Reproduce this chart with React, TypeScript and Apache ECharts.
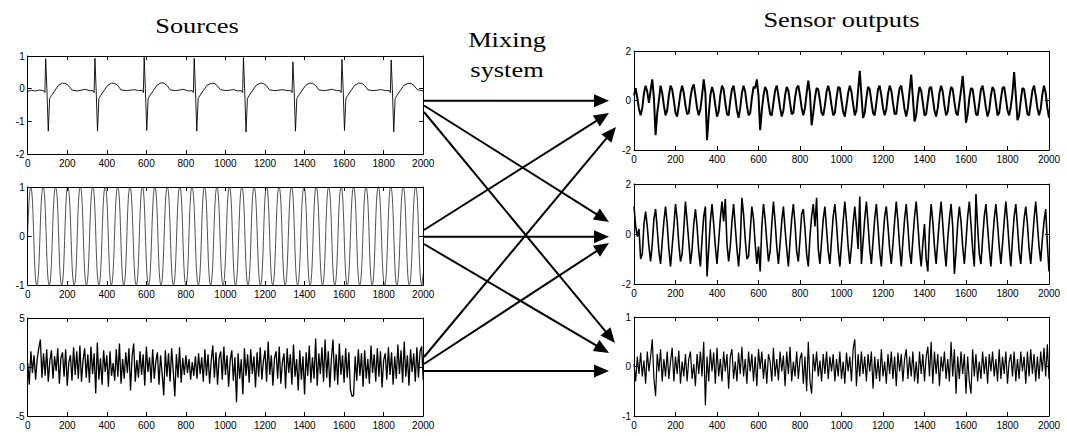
import React, { useEffect, useRef } from "react";
import * as echarts from "echarts";

// ---------------- DATA ----------------
const X_MIN = 0;
const X_MAX = 2000;
const X_TICK = 200;
const SAMPLE_STEP = 8; // sampling step of the noisy traces (x units)

// Source 1: ECG keypoints [x, value]
const ecgPoints: [number, number][] = [
  [0, -0.08], [20, -0.05], [40, -0.07], [60, -0.04], [75, -0.06],
  [81, -0.06], [87, -0.12], [91, 0.92], [97, 0], [104, -1.3], [111, -0.3], [121, -0.2], [138, -0.05], [155, 0.1], [176, 0.17], [191, 0.16], [206, 0.1], [223, -0.04], [251, -0.07], [291, -0.02], [311, -0.06],
  [330, -0.06], [336, -0.12], [340, 0.93], [346, 0], [353, -1.3], [360, -0.3], [370, -0.2], [387, -0.05], [404, 0.1], [425, 0.17], [440, 0.16], [455, 0.1], [472, -0.04], [500, -0.06], [540, -0.03], [560, -0.06],
  [579, -0.05], [585, -0.12], [589, 0.96], [595, 0], [602, -1.28], [609, -0.3], [619, -0.2], [636, -0.05], [653, 0.1], [674, 0.18], [689, 0.17], [704, 0.1], [721, -0.04], [749, -0.06], [789, -0.02], [809, -0.07],
  [832, -0.06], [838, -0.12], [842, 0.93], [848, 0], [855, -1.3], [862, -0.3], [872, -0.2], [889, -0.05], [906, 0.1], [927, 0.16], [942, 0.17], [957, 0.1], [974, -0.03], [1002, -0.06], [1042, -0.03], [1062, -0.07],
  [1081, -0.06], [1087, -0.12], [1091, 0.95], [1097, 0], [1104, -1.33], [1111, -0.3], [1121, -0.2], [1138, -0.05], [1155, 0.1], [1176, 0.17], [1191, 0.16], [1206, 0.1], [1223, -0.04], [1251, -0.06], [1291, -0.03], [1311, -0.06],
  [1331, -0.06], [1337, -0.12], [1341, 0.82], [1347, 0], [1354, -1.3], [1361, -0.3], [1371, -0.2], [1388, -0.05], [1405, 0.1], [1426, 0.17], [1441, 0.16], [1456, 0.1], [1473, -0.04], [1501, -0.06], [1541, -0.02], [1561, -0.06],
  [1579, -0.06], [1585, -0.12], [1589, 0.9], [1595, 0], [1602, -1.28], [1609, -0.3], [1619, -0.2], [1636, -0.05], [1653, 0.1], [1674, 0.17], [1689, 0.16], [1704, 0.1], [1721, -0.04], [1749, -0.06], [1789, -0.03], [1809, -0.06],
  [1828, -0.06], [1834, -0.12], [1838, 0.88], [1844, 0], [1851, -1.32], [1858, -0.3], [1868, -0.2], [1885, -0.05], [1902, 0.1], [1923, 0.16], [1938, 0.16], [1953, 0.1], [1970, -0.03], [2000, -0.07],
];

// Source 2: sinusoid, read as its successive peaks and troughs [x, value]
const sinePoints: [number, number][] = [
  [0, 0.07],
  [15, 1], [46, -1], [78, 1], [109, -1], [141, 1], [172, -1], [203, 1], [235, -1],
  [266, 1], [297, -1], [329, 1], [360, -1], [392, 1], [423, -1], [455, 1], [486, -1],
  [517, 1], [549, -1], [580, 1], [611, -1], [643, 1], [674, -1], [706, 1], [737, -1],
  [769, 1], [800, -1], [831, 1], [863, -1], [894, 1], [925, -1], [957, 1], [988, -1],
  [1020, 1], [1051, -1], [1083, 1], [1114, -1], [1145, 1], [1177, -1], [1208, 1], [1239, -1],
  [1271, 1], [1302, -1], [1334, 1], [1365, -1], [1397, 1], [1428, -1], [1459, 1], [1491, -1],
  [1522, 1], [1553, -1], [1585, 1], [1616, -1], [1648, 1], [1679, -1], [1711, 1], [1742, -1],
  [1773, 1], [1805, -1], [1836, 1], [1867, -1], [1899, 1], [1930, -1], [1962, 1], [1993, -1],
  [2000, -0.76],
];

// Source 3: noise, one value every SAMPLE_STEP
const sourceNoise: number[] = [
  0.4, -1.8, 1.6, -0.6, 1.2, -1.3, 0.8, 1.9, 2.8, -1.1,
  1.4, -0.9, 1.8, -1.5, 0.6, 1.7, -1.2, 1.1, -0.4, 1.9,
  -1.7, 0.9, 1.5, -1.0, 1.8, -1.9, 0.5, 1.2, -1.4, 2.0,
  -0.8, 1.6, -1.2, 2.2, -1.5, 0.7, 1.9, -1.1, 1.3, -1.6,
  2.1, -0.7, 1.4, -2.7, 2.5, -1.3, 0.9, -1.8, 1.7, -0.5,
  1.2, -2.0, 1.6, -0.9, 0.4, -1.4, 1.8, -1.0, 2.4, -1.7,
  0.8, -1.2, 1.5, -0.6, 1.9, -2.4, 1.1, 2.4, -1.5, 0.7,
  -1.1, 1.6, -0.8, 1.3, -1.9, 2.1, -0.5, 1.0, -1.6, 1.8,
  -1.2, 0.6, 1.5, -1.8, 1.2, -0.7, -2.9, 1.7, -1.0, 1.4,
  -1.5, 1.9, -0.4, -3.0, 1.3, -1.1, 2.0, -1.6, 0.9, -0.8,
  1.2, -0.6, 0.8, -1.3, 0.5, -0.9, 1.1, -1.2, 1.4, -0.7,
  1.0, -1.5, 1.8, -0.9, 1.3, -1.7, 0.6, 2.2, -1.1, 1.5,
  -1.8, 0.9, 1.6, -1.3, 2.1, -0.8, 1.2, -2.0, 0.7, 1.7,
  -1.4, 1.0, -3.6, 1.4, -1.2, 0.8, -2.8, 1.9, -0.9, 1.3,
  -1.6, 1.8, -0.7, 1.1, -2.1, 1.5, -1.0, 2.0, -1.3, 0.6,
  1.7, -1.5, 2.6, -0.8, 1.2, -1.9, 0.9, 1.6, -1.2, 2.1,
  -1.7, 0.5, 1.4, -2.2, 1.9, -0.6, 1.3, -1.8, 2.3, -1.0,
  0.8, -2.4, 1.7, -1.3, 1.1, -2.8, 1.5, -0.9, 2.2, -1.6,
  1.0, -1.2, 2.9, -1.9, 1.4, -0.7, 2.0, -1.5, 2.8, -1.1,
  1.6, -2.1, 0.9, 2.8, -1.4, 1.3, -1.8, 2.4, -0.8, 1.2,
  -1.6, 1.9, -1.1, 1.5, -2.3, -3.0, -2.9, 1.1, -1.4, 1.8,
  -0.9, 1.4, -2.0, 1.7, -1.2, 0.8, -1.7, 2.2, -0.6, 1.3,
  -1.5, 1.9, -1.0, 1.6, -2.1, 0.7, 1.4, -1.3, 2.0, -0.8,
  1.5, -1.8, 1.1, -1.2, 2.3, -0.7, 1.7, -1.6, 2.6, -1.0,
  1.2, -1.9, 1.8, -0.5, 1.4, -1.5, 2.0, -1.1, 1.6, 2.1,
  -1.3,
];

// Sensor output 1
const sensor1: number[] = [
  0.2, 0.5, 0.1, -0.35, -0.6, -0.3, 0.3, 0.6, 0.35, -0.1,
  0.4, 0.85, 0.1, -1.4, -0.5, 0.0, 0.6, 0.3, -0.2, -0.6,
  -0.4, 0.2, 0.6, 0.45, 0.0, -0.5, -0.65, -0.2, 0.3, 0.6,
  0.3, -0.2, -0.55, -0.5, 0.1, 0.5, 0.65, 0.2, -0.3, -0.6,
  -0.35, 0.2, 0.85, 0.3, -1.6, -0.6, 0.2, 0.55, 0.3, -0.2,
  -0.65, -0.45, 0.2, 0.6, 0.45, -0.1, -0.55, -0.6, 0.0, 0.45,
  0.6, 0.15, -0.4, -0.7, -0.3, 0.3, 0.6, 0.35, -0.2, -0.6,
  -0.5, 0.1, 0.55, 0.5, 0.85, 0.2, -1.2, -0.4, 0.2, 0.55,
  0.4, -0.1, -0.55, -0.6, -0.1, 0.4, 0.6, 0.2, -0.3, -0.65,
  -0.4, 0.2, 0.55, 0.4, -0.1, -0.55, -0.5, 0.1, 0.5, 0.6,
  0.2, -0.3, -0.6, -0.3, 0.3, 0.8, 0.3, -1.0, -0.5, 0.1,
  0.5, 0.45, 0.0, -0.5, -0.6, -0.2, 0.35, 0.6, 0.3, -0.2,
  -0.6, -0.5, 0.1, 0.55, 0.5, 0.0, -0.45, -0.65, -0.2, 0.3,
  0.6, 0.35, -0.15, -0.6, -0.4, 0.4, 1.2, 0.2, -0.7, -0.5,
  0.1, 0.55, 0.45, -0.05, -0.5, -0.6, -0.1, 0.45, 0.6, 0.2,
  -0.3, -0.6, -0.35, 0.25, 0.6, 0.4, -0.1, -0.55, -0.55, 0.05,
  0.5, 0.6, 0.15, -0.35, -0.65, -0.3, 0.4, 1.05, 0.1, -0.85,
  -0.6, 0.1, 0.55, 0.4, -0.1, -0.6, -0.55, 0.0, 0.5, 0.55,
  0.1, -0.4, -0.65, -0.3, 0.3, 0.6, 0.35, -0.2, -0.6, -0.45,
  0.15, 0.55, 0.45, -0.05, -0.5, -0.6, -0.1, 0.4, 1.0, 0.2,
  -0.9, -0.55, 0.1, 0.5, 0.45, -0.05, -0.55, -0.6, -0.1, 0.45,
  0.6, 0.2, -0.3, -0.65, -0.4, 0.2, 0.55, 0.4, -0.1, -0.6,
  -0.5, 0.05, 0.5, 0.55, 0.1, -0.4, -0.6, -0.25, 0.3, 1.15,
  0.2, -0.8, -0.6, 0.0, 0.5, 0.45, -0.05, -0.55, -0.6, -0.1,
  0.4, 0.6, 0.2, -0.3, -0.6, -0.35, 0.25, 0.6, 0.3, -0.3,
  -0.7,
];

// Sensor output 2
const sensor2: number[] = [
  1.1, 0.3, -0.1, 0.2, -1.0, -0.8, 0.4, 0.9, 0.3, -0.5,
  -1.1, -0.4, 0.6, 1.0, 0.2, -0.7, -1.2, -0.3, 0.5, 1.1,
  0.4, -0.6, -1.3, -0.5, 0.3, 1.2, 0.6, -0.4, -1.1, -0.8,
  0.2, 1.3, 0.5, -0.3, -1.2, -0.6, 0.4, 1.0, 0.3, -0.7,
  -1.3, -0.2, 0.7, 1.1, -1.7, -0.6, 0.5, 1.2, 0.4, -0.5,
  -1.2, -0.3, 0.6, 1.3, 0.5, 1.4, -0.4, -1.1, -0.5, 0.5,
  1.2, 0.3, -0.6, -1.3, -0.4, 1.45, 0.8, -0.2, -1.0, -0.9,
  0.1, 1.1, 0.6, -0.4, -1.2, -0.5, -1.5, 0.3, 1.2, 0.6,
  -0.3, -1.1, -0.7, 0.4, 1.3, 0.5, -0.5, -1.2, -0.4, 0.5,
  1.1, 0.2, -0.6, -1.3, -0.3, 0.6, 1.2, 0.4, -0.7, -1.1,
  -0.2, 0.8, 1.0, 0.2, -0.8, -1.3, -0.1, 0.7, 1.2, 0.3,
  1.45, -0.6, -1.2, -0.3, 0.6, 1.1, 0.2, -0.7, -1.2, -0.2,
  0.7, 1.2, 0.4, -0.6, -1.3, -0.4, 0.5, 1.3, 0.5, -0.5,
  -1.2, -0.5, 0.4, 1.1, 0.3, -0.6, 1.5, -1.2, -0.3, 0.6,
  1.3, 0.4, -0.6, -1.2, -0.3, 0.6, 1.2, 0.3, -0.7, -1.3,
  -0.2, 0.7, 1.1, 0.3, -0.6, -1.2, -0.4, 0.5, 1.3, 0.5,
  -0.5, -1.3, -0.3, 0.6, 1.2, 0.3, -0.7, -1.2, -0.2, 0.7,
  1.3, 0.4, -0.6, -1.3, -0.4, 0.4, -1.0, -1.5, 0.2, 1.2,
  0.5, -0.5, -1.2, -0.3, 0.6, 1.3, 0.4, -0.6, -1.3, -0.2,
  0.6, 1.2, 0.3, -1.6, -0.7, 0.4, 1.1, 0.5, -0.5, -1.2,
  -0.3, 0.7, 1.3, 0.4, -0.6, -1.3, 1.6, 0.3, -0.8, -1.2,
  -0.2, 0.7, 1.2, 0.3, -0.6, -1.3, -0.3, 0.6, 1.2, 0.4,
  -0.5, -1.2, -0.4, 0.5, 1.3, 0.5, -0.5, -1.3, -0.2, 0.7,
  1.2, 0.3, -0.7, -1.2, -0.2, 0.6, 1.1, 0.4, -0.6, -1.2,
  -0.3, 0.6, 1.3, 0.4, -0.5, -1.1, -0.2, 0.5, 1.0, -0.4,
  -1.5,
];

// Sensor output 3
const sensor3: number[] = [
  0.05, -0.3, 0.2, -0.15, 0.28, -0.2, 0.12, -0.35, 0.3, -0.1,
  0.2, 0.55, -0.25, -0.6, 0.25, -0.1, 0.35, -0.3, 0.15, -0.2,
  0.3, -0.25, 0.1, 0.38, -0.3, 0.2, -0.15, 0.32, -0.35, 0.1,
  -0.2, 0.25, -0.3, 0.15, 0.3, -0.25, 0.05, -0.4, 0.25, -0.15,
  0.3, -0.2, 0.5, -0.78, 0.2, -0.3, 0.35, -0.1, 0.28, -0.35,
  0.38, -0.2, 0.15, -0.3, 0.3, -0.1, 0.25, -0.45, 0.2, 0.35,
  -0.25, 0.1, -0.3, 0.28, -0.15, 0.4, -0.2, 0.15, -0.35, 0.3,
  -0.1, 0.25, -0.3, 0.2, -0.4, 0.35, -0.05, 0.3, -0.25, 0.15,
  -0.35, 0.25, 0.1, -0.3, 0.38, -0.2, 0.15, -0.28, 0.3, -0.1,
  0.22, -0.4, 0.3, -0.15, 0.4, -0.3, 0.1, -0.2, 0.3, -0.25,
  0.15, 0.28, -0.35, 0.2, -0.5, 0.5, -0.3, -0.55, 0.25, -0.1,
  0.3, -0.2, 0.12, -0.3, 0.25, -0.15, 0.3, -0.25, 0.2, -0.1,
  0.25, -0.3, 0.15, -0.2, 0.3, -0.25, 0.1, -0.35, 0.28, -0.1,
  0.2, -0.3, 0.35, 0.55, -0.4, 0.25, -0.2, 0.3, -0.15, 0.2,
  -0.3, 0.25, -0.1, 0.3, -0.45, 0.2, -0.25, 0.15, -0.3, 0.35,
  -0.2, 0.1, -0.35, 0.25, -0.15, 0.3, -0.25, 0.2, -0.4, 0.28,
  -0.1, 0.25, -0.3, 0.15, 0.35, -0.25, 0.2, -0.2, 0.3, -0.3,
  0.1, -0.35, 0.3, -0.15, 0.25, -0.3, 0.2, 0.4, -0.2, 0.5,
  -0.35, 0.3, -0.15, 0.25, -0.4, 0.2, -0.1, 0.3, -0.25, 0.15,
  -0.3, 0.5, -0.2, 0.35, -0.55, 0.2, -0.25, 0.3, -0.15, 0.25,
  -0.55, 0.2, -0.3, -0.55, 0.35, -0.2, 0.25, -0.3, 0.1, -0.25,
  0.3, -0.15, 0.2, -0.35, 0.25, -0.1, 0.3, -0.2, 0.15, -0.3,
  0.35, -0.25, 0.2, -0.15, 0.3, -0.35, 0.1, 0.25, -0.2, 0.3,
  -0.3, 0.15, -0.25, 0.3, -0.1, 0.2, -0.35, 0.3, -0.2, 0.35,
  -0.15, 0.25, -0.3, 0.2, -0.25, 0.3, -0.1, 0.38, -0.2, 0.45,
  -0.25,
];

// y-axis ranges [min, max, interval] for the six panels
const yRanges: [number, number, number][] = [
  [-2, 1, 1],
  [-1, 1, 1],
  [-5, 5, 5],
  [-2, 2, 2],
  [-2, 2, 2],
  [-1, 1, 1],
];

const titles = { sources: "Sources", mixing1: "Mixing", mixing2: "system", sensors: "Sensor outputs" };

// ---------------- LAYOUT ----------------
const grids = [
  { left: 27.7, top: 56, width: 395.5, height: 98 },
  { left: 27.7, top: 187, width: 395.5, height: 98 },
  { left: 27.7, top: 318, width: 395.5, height: 98 },
  { left: 634, top: 51, width: 415, height: 99 },
  { left: 634, top: 184, width: 415, height: 100 },
  { left: 634, top: 317, width: 415, height: 99 },
];

const arrows: [number, number, number, number][] = [
  [424, 100.7, 609, 100.7],
  [424, 105.5, 609, 222],
  [424, 112, 615, 343],
  [424, 230, 609, 113],
  [424, 236.7, 609, 236.7],
  [424, 244, 609, 353],
  [424, 357, 616, 127],
  [424, 364, 609, 243],
  [424, 371, 609, 371],
];

const LABEL_FONT = "Liberation Sans, Arial, Helvetica, sans-serif";
const SERIF = "'Liberation Serif', 'Times New Roman', serif";

function toXY(values: number[]): [number, number][] {
  return values.map((v, i) => [i * SAMPLE_STEP, v]);
}

function arrowElements(a: [number, number, number, number]) {
  const [x1, y1, x2, y2] = a;
  const dx = x2 - x1;
  const dy = y2 - y1;
  const L = Math.hypot(dx, dy);
  const ux = dx / L;
  const uy = dy / L;
  const hl = 15;
  const hw = 6.5;
  const bx = x2 - ux * hl;
  const by = y2 - uy * hl;
  return [
    {
      type: "line",
      shape: { x1, y1, x2: bx + ux * 2, y2: by + uy * 2 },
      style: { stroke: "#000", lineWidth: 2 },
      silent: true,
    },
    {
      type: "polygon",
      shape: {
        points: [
          [x2, y2],
          [bx - uy * hw, by + ux * hw],
          [bx + uy * hw, by - ux * hw],
        ],
      },
      style: { fill: "#000" },
      silent: true,
    },
  ];
}

function titleText(text: string, x: number, y: number) {
  return {
    type: "text",
    x,
    y,
    scaleX: 1.2,
    silent: true,
    style: {
      text,
      x: 0,
      y: 0,
      fill: "#000",
      fontSize: 22,
      fontFamily: SERIF,
      fontWeight: "normal",
      textAlign: "center",
      textVerticalAlign: "middle",
      align: "center",
      verticalAlign: "middle",
    },
  };
}

const plainLabel = (v: number) => String(v);

export default function App() {
  const ref = useRef<HTMLDivElement>(null);

  useEffect(() => {
    if (!ref.current) return;
    const chart = echarts.init(ref.current, undefined, { renderer: "svg" });

    const xAxes: any[] = [];
    const yAxes: any[] = [];
    grids.forEach((g, i) => {
      const [ymin, ymax, yint] = yRanges[i];
      const common = {
        gridIndex: i,
        type: "value",
        splitLine: { show: false },
        axisLine: { show: true, onZero: false, lineStyle: { color: "#000", width: 1 } },
        axisTick: { show: true, inside: true, length: 4, lineStyle: { color: "#000", width: 1 } },
      };
      xAxes.push({
        ...common,
        position: "bottom",
        min: X_MIN,
        max: X_MAX,
        interval: X_TICK,
        axisLabel: { show: true, color: "#000", fontSize: 10, fontFamily: LABEL_FONT, margin: 4, hideOverlap: false, showMinLabel: true, showMaxLabel: true, formatter: plainLabel },
      });
      xAxes.push({
        ...common,
        position: "top",
        min: X_MIN,
        max: X_MAX,
        interval: X_TICK,
        axisLabel: { show: false },
      });
      yAxes.push({
        ...common,
        position: "left",
        min: ymin,
        max: ymax,
        interval: yint,
        axisLabel: { show: true, color: "#000", fontSize: 10, fontFamily: LABEL_FONT, margin: 3, showMinLabel: true, showMaxLabel: true, formatter: plainLabel },
      });
      yAxes.push({
        ...common,
        position: "right",
        min: ymin,
        max: ymax,
        interval: yint,
        axisLabel: { show: false },
      });
    });

    const seriesData: { data: [number, number][]; width: number; color: string; smooth: boolean }[] = [
      { data: ecgPoints, width: 0.9, color: "#000", smooth: false },
      { data: sinePoints, width: 0.8, color: "#222", smooth: true },
      { data: toXY(sourceNoise), width: 1.3, color: "#000", smooth: false },
      { data: toXY(sensor1), width: 2, color: "#000", smooth: false },
      { data: toXY(sensor2), width: 1.6, color: "#000", smooth: false },
      { data: toXY(sensor3), width: 1.2, color: "#000", smooth: false },
    ];

    const series = seriesData.map((s, i) => ({
      type: "line",
      xAxisIndex: i * 2,
      yAxisIndex: i * 2,
      data: s.data,
      symbol: "none",
      showSymbol: false,
      smooth: s.smooth,
      clip: true,
      silent: true,
      lineStyle: { color: s.color, width: s.width },
    }));

    const graphics: any[] = [
      titleText(titles.sources, 197, 25.6),
      titleText(titles.mixing1, 507, 39.3),
      titleText(titles.mixing2, 507, 69.6),
      titleText(titles.sensors, 841.5, 19.3),
    ];
    arrows.forEach((a) => graphics.push(...arrowElements(a)));

    chart.setOption({
      animation: false,
      backgroundColor: "#fff",
      grid: grids.map((g) => ({ ...g, containLabel: false })),
      xAxis: xAxes,
      yAxis: yAxes,
      series,
      graphic: { elements: graphics },
    });

    return () => {
      chart.dispose();
    };
  }, []);

  return (
    <div
      ref={ref}
      style={{ position: "absolute", left: 0, top: 0, width: 1067, height: 436, background: "#fff" }}
    />
  );
}
